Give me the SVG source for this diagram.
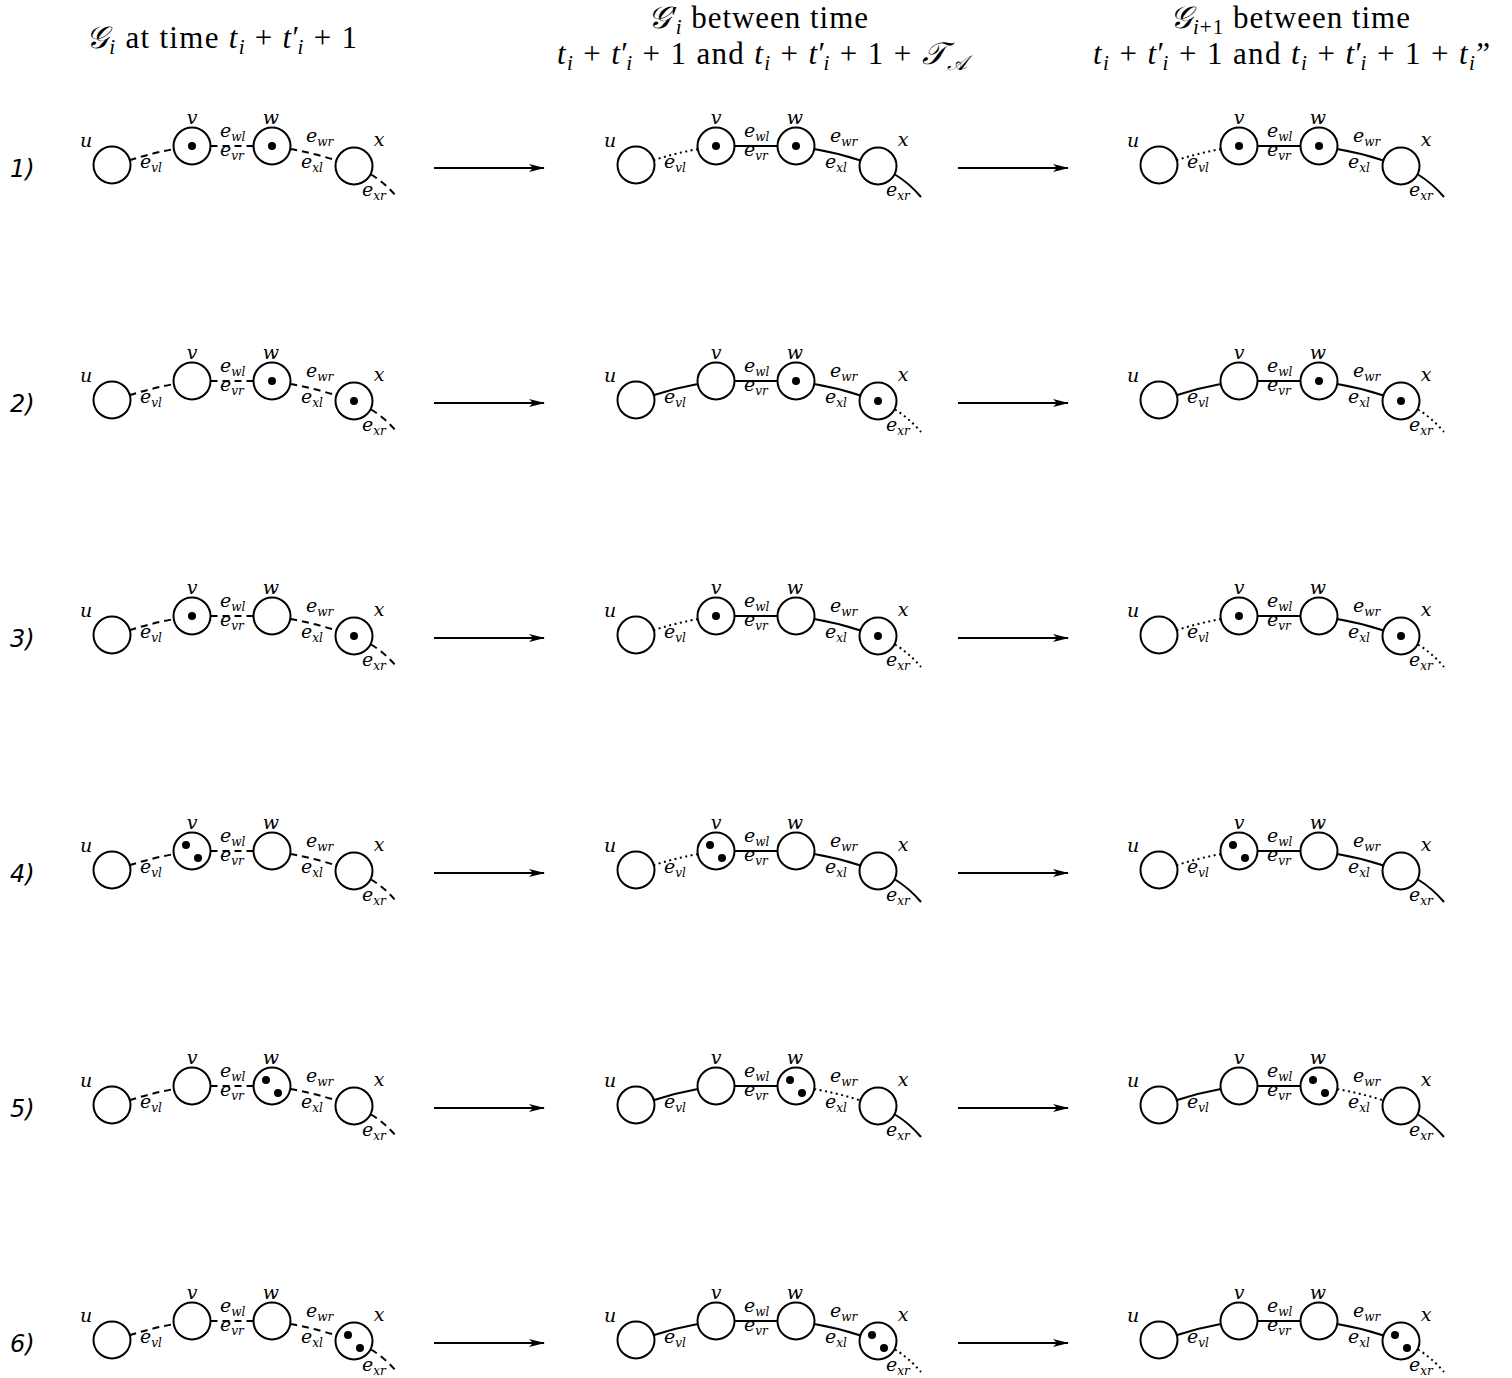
<svg xmlns="http://www.w3.org/2000/svg" width="1512" height="1378" viewBox="0 0 1512 1378">
<style>
.bg{fill:#fff}
.n{fill:#fff;stroke:#000;stroke-width:2}
.d{fill:#000}
.e{fill:none;stroke:#000;stroke-width:2}
.ds{stroke-dasharray:7 5}
.dt{stroke-dasharray:2 3.5}
.nl{font-family:'DejaVu Serif',serif;font-style:italic;font-size:19px;text-anchor:middle}
.el{font-family:'DejaVu Serif',serif;font-style:italic;font-size:19px}
.sb{font-size:12px}
.rl{font-family:'DejaVu Sans',sans-serif;font-style:italic;font-size:24px}
.hd{font-family:'Liberation Serif',serif;font-size:31px}
.it{font-style:italic}
.hs{font-size:21px;font-style:italic}
.ar{fill:none;stroke:#000;stroke-width:2}
</style>
<defs>
<marker id="ah" markerWidth="16" markerHeight="10" refX="15" refY="5" orient="auto" markerUnits="userSpaceOnUse">
<path d="M0,1 L16,5 L0,9 L4,5 Z" fill="#000"/>
</marker>
</defs>
<rect class="bg" x="0" y="0" width="1512" height="1378"/>

<g id="headers">
<text class="hd" font-family="Liberation Serif, serif" x="86" y="48" textLength="271" lengthAdjust="spacing"><tspan class="it">𝒢</tspan><tspan class="hs" dy="6">i</tspan><tspan dy="-6"> at time </tspan><tspan class="it">t</tspan><tspan class="hs" dy="6">i</tspan><tspan dy="-6"> + </tspan><tspan class="it">t</tspan><tspan>′</tspan><tspan class="hs" dx="-3" dy="6">i</tspan><tspan dy="-6"> + 1</tspan></text>
<text class="hd" font-family="Liberation Serif, serif" x="648" y="28" textLength="220" lengthAdjust="spacing"><tspan class="it">𝒢</tspan><tspan>′</tspan><tspan class="hs" dx="-3" dy="6">i</tspan><tspan dy="-6"> between time</tspan></text>
<text class="hd" font-family="Liberation Serif, serif" x="557" y="64" textLength="410" lengthAdjust="spacing"><tspan class="it">t</tspan><tspan class="hs" dy="6">i</tspan><tspan dy="-6"> + </tspan><tspan class="it">t</tspan><tspan>′</tspan><tspan class="hs" dx="-3" dy="6">i</tspan><tspan dy="-6"> + 1 and </tspan><tspan class="it">t</tspan><tspan class="hs" dy="6">i</tspan><tspan dy="-6"> + </tspan><tspan class="it">t</tspan><tspan>′</tspan><tspan class="hs" dx="-3" dy="6">i</tspan><tspan dy="-6"> + 1 + </tspan><tspan class="it">𝒯</tspan><tspan class="hs" dy="6">𝒜</tspan></text>
<text class="hd" font-family="Liberation Serif, serif" x="1170" y="28" textLength="240" lengthAdjust="spacing"><tspan class="it">𝒢</tspan><tspan class="hs" dy="6">i</tspan><tspan style="font-size:21px">+1</tspan><tspan dy="-6"> between time</tspan></text>
<text class="hd" font-family="Liberation Serif, serif" x="1093" y="64" textLength="397" lengthAdjust="spacing"><tspan class="it">t</tspan><tspan class="hs" dy="6">i</tspan><tspan dy="-6"> + </tspan><tspan class="it">t</tspan><tspan>′</tspan><tspan class="hs" dx="-3" dy="6">i</tspan><tspan dy="-6"> + 1 and </tspan><tspan class="it">t</tspan><tspan class="hs" dy="6">i</tspan><tspan dy="-6"> + </tspan><tspan class="it">t</tspan><tspan>′</tspan><tspan class="hs" dx="-3" dy="6">i</tspan><tspan dy="-6"> + 1 + </tspan><tspan class="it">t</tspan><tspan class="hs" dy="6">i</tspan><tspan dy="-6">”</tspan></text>
</g>

<g id="row-labels">
<text class="rl" x="10" y="177">1)</text>
<text class="rl" x="10" y="412">2)</text>
<text class="rl" x="10" y="647">3)</text>
<text class="rl" x="10" y="882">4)</text>
<text class="rl" x="10" y="1117">5)</text>
<text class="rl" x="10" y="1352">6)</text>
</g>

<g id="arrows">
<line class="ar" x1="434" y1="168" x2="544" y2="168" marker-end="url(#ah)"/>
<line class="ar" x1="958" y1="168" x2="1068" y2="168" marker-end="url(#ah)"/>
<line class="ar" x1="434" y1="403" x2="544" y2="403" marker-end="url(#ah)"/>
<line class="ar" x1="958" y1="403" x2="1068" y2="403" marker-end="url(#ah)"/>
<line class="ar" x1="434" y1="638" x2="544" y2="638" marker-end="url(#ah)"/>
<line class="ar" x1="958" y1="638" x2="1068" y2="638" marker-end="url(#ah)"/>
<line class="ar" x1="434" y1="873" x2="544" y2="873" marker-end="url(#ah)"/>
<line class="ar" x1="958" y1="873" x2="1068" y2="873" marker-end="url(#ah)"/>
<line class="ar" x1="434" y1="1108" x2="544" y2="1108" marker-end="url(#ah)"/>
<line class="ar" x1="958" y1="1108" x2="1068" y2="1108" marker-end="url(#ah)"/>
<line class="ar" x1="434" y1="1343" x2="544" y2="1343" marker-end="url(#ah)"/>
<line class="ar" x1="958" y1="1343" x2="1068" y2="1343" marker-end="url(#ah)"/>
</g>

<!-- ROW 1 -->
<g id="r1-left" transform="translate(0,0)">
<g id="r1-left-connectors">
<path class="e ds" d="M129.4,160.3 A332,332 0 0 1 173.8,149.1"/>
<path class="e ds" d="M210.5,146 H253.5"/>
<path class="e ds" d="M290.2,149.1 A332,332 0 0 1 336.5,160.5"/>
<path class="e ds" d="M371,174.5 Q385,183 397,197"/>
<text class="el" x="140" y="168">e<tspan class="sb" dy="4">vl</tspan></text>
<text class="el" x="220" y="137">e<tspan class="sb" dy="4">wl</tspan></text>
<text class="el" x="220" y="156">e<tspan class="sb" dy="4">vr</tspan></text>
<text class="el" x="306" y="142">e<tspan class="sb" dy="4">wr</tspan></text>
<text class="el" x="301" y="168">e<tspan class="sb" dy="4">xl</tspan></text>
<text class="el" x="362" y="196">e<tspan class="sb" dy="4">xr</tspan></text>
</g>
<g id="r1-left-u"><circle class="n" cx="112" cy="165" r="18.5"/><text class="nl" x="86" y="147">u</text></g>
<g id="r1-left-v"><circle class="n" cx="192" cy="146" r="18.5"/><circle class="d" cx="192" cy="146" r="4"/><text class="nl" x="192" y="124">v</text></g>
<g id="r1-left-w"><circle class="n" cx="272" cy="146" r="18.5"/><circle class="d" cx="272" cy="146" r="4"/><text class="nl" x="271" y="124">w</text></g>
<g id="r1-left-x"><circle class="n" cx="354" cy="166" r="18.5"/><text class="nl" x="379" y="146">x</text></g>
</g>

<g id="r1-mid" transform="translate(524,0)">
<g id="r1-mid-connectors">
<path class="e dt" d="M129.4,160.3 A332,332 0 0 1 173.8,149.1"/>
<path class="e" d="M210.5,146 H253.5"/>
<path class="e" d="M290.2,149.1 A332,332 0 0 1 336.5,160.5"/>
<path class="e" d="M371,174.5 Q385,183 397,197"/>
<text class="el" x="140" y="168">e<tspan class="sb" dy="4">vl</tspan></text>
<text class="el" x="220" y="137">e<tspan class="sb" dy="4">wl</tspan></text>
<text class="el" x="220" y="156">e<tspan class="sb" dy="4">vr</tspan></text>
<text class="el" x="306" y="142">e<tspan class="sb" dy="4">wr</tspan></text>
<text class="el" x="301" y="168">e<tspan class="sb" dy="4">xl</tspan></text>
<text class="el" x="362" y="196">e<tspan class="sb" dy="4">xr</tspan></text>
</g>
<g id="r1-mid-u"><circle class="n" cx="112" cy="165" r="18.5"/><text class="nl" x="86" y="147">u</text></g>
<g id="r1-mid-v"><circle class="n" cx="192" cy="146" r="18.5"/><circle class="d" cx="192" cy="146" r="4"/><text class="nl" x="192" y="124">v</text></g>
<g id="r1-mid-w"><circle class="n" cx="272" cy="146" r="18.5"/><circle class="d" cx="272" cy="146" r="4"/><text class="nl" x="271" y="124">w</text></g>
<g id="r1-mid-x"><circle class="n" cx="354" cy="166" r="18.5"/><text class="nl" x="379" y="146">x</text></g>
</g>

<g id="r1-right" transform="translate(1047,0)">
<g id="r1-right-connectors">
<path class="e dt" d="M129.4,160.3 A332,332 0 0 1 173.8,149.1"/>
<path class="e" d="M210.5,146 H253.5"/>
<path class="e" d="M290.2,149.1 A332,332 0 0 1 336.5,160.5"/>
<path class="e" d="M371,174.5 Q385,183 397,197"/>
<text class="el" x="140" y="168">e<tspan class="sb" dy="4">vl</tspan></text>
<text class="el" x="220" y="137">e<tspan class="sb" dy="4">wl</tspan></text>
<text class="el" x="220" y="156">e<tspan class="sb" dy="4">vr</tspan></text>
<text class="el" x="306" y="142">e<tspan class="sb" dy="4">wr</tspan></text>
<text class="el" x="301" y="168">e<tspan class="sb" dy="4">xl</tspan></text>
<text class="el" x="362" y="196">e<tspan class="sb" dy="4">xr</tspan></text>
</g>
<g id="r1-right-u"><circle class="n" cx="112" cy="165" r="18.5"/><text class="nl" x="86" y="147">u</text></g>
<g id="r1-right-v"><circle class="n" cx="192" cy="146" r="18.5"/><circle class="d" cx="192" cy="146" r="4"/><text class="nl" x="192" y="124">v</text></g>
<g id="r1-right-w"><circle class="n" cx="272" cy="146" r="18.5"/><circle class="d" cx="272" cy="146" r="4"/><text class="nl" x="271" y="124">w</text></g>
<g id="r1-right-x"><circle class="n" cx="354" cy="166" r="18.5"/><text class="nl" x="379" y="146">x</text></g>
</g>

<!-- ROW 2 -->
<g id="r2-left" transform="translate(0,235)">
<g id="r2-left-connectors">
<path class="e ds" d="M129.4,160.3 A332,332 0 0 1 173.8,149.1"/>
<path class="e ds" d="M210.5,146 H253.5"/>
<path class="e ds" d="M290.2,149.1 A332,332 0 0 1 336.5,160.5"/>
<path class="e ds" d="M371,174.5 Q385,183 397,197"/>
<text class="el" x="140" y="168">e<tspan class="sb" dy="4">vl</tspan></text>
<text class="el" x="220" y="137">e<tspan class="sb" dy="4">wl</tspan></text>
<text class="el" x="220" y="156">e<tspan class="sb" dy="4">vr</tspan></text>
<text class="el" x="306" y="142">e<tspan class="sb" dy="4">wr</tspan></text>
<text class="el" x="301" y="168">e<tspan class="sb" dy="4">xl</tspan></text>
<text class="el" x="362" y="196">e<tspan class="sb" dy="4">xr</tspan></text>
</g>
<g id="r2-left-u"><circle class="n" cx="112" cy="165" r="18.5"/><text class="nl" x="86" y="147">u</text></g>
<g id="r2-left-v"><circle class="n" cx="192" cy="146" r="18.5"/><text class="nl" x="192" y="124">v</text></g>
<g id="r2-left-w"><circle class="n" cx="272" cy="146" r="18.5"/><circle class="d" cx="272" cy="146" r="4"/><text class="nl" x="271" y="124">w</text></g>
<g id="r2-left-x"><circle class="n" cx="354" cy="166" r="18.5"/><circle class="d" cx="354" cy="166" r="4"/><text class="nl" x="379" y="146">x</text></g>
</g>

<g id="r2-mid" transform="translate(524,235)">
<g id="r2-mid-connectors">
<path class="e" d="M129.4,160.3 A332,332 0 0 1 173.8,149.1"/>
<path class="e" d="M210.5,146 H253.5"/>
<path class="e" d="M290.2,149.1 A332,332 0 0 1 336.5,160.5"/>
<path class="e dt" d="M371,174.5 Q385,183 397,197"/>
<text class="el" x="140" y="168">e<tspan class="sb" dy="4">vl</tspan></text>
<text class="el" x="220" y="137">e<tspan class="sb" dy="4">wl</tspan></text>
<text class="el" x="220" y="156">e<tspan class="sb" dy="4">vr</tspan></text>
<text class="el" x="306" y="142">e<tspan class="sb" dy="4">wr</tspan></text>
<text class="el" x="301" y="168">e<tspan class="sb" dy="4">xl</tspan></text>
<text class="el" x="362" y="196">e<tspan class="sb" dy="4">xr</tspan></text>
</g>
<g id="r2-mid-u"><circle class="n" cx="112" cy="165" r="18.5"/><text class="nl" x="86" y="147">u</text></g>
<g id="r2-mid-v"><circle class="n" cx="192" cy="146" r="18.5"/><text class="nl" x="192" y="124">v</text></g>
<g id="r2-mid-w"><circle class="n" cx="272" cy="146" r="18.5"/><circle class="d" cx="272" cy="146" r="4"/><text class="nl" x="271" y="124">w</text></g>
<g id="r2-mid-x"><circle class="n" cx="354" cy="166" r="18.5"/><circle class="d" cx="354" cy="166" r="4"/><text class="nl" x="379" y="146">x</text></g>
</g>

<g id="r2-right" transform="translate(1047,235)">
<g id="r2-right-connectors">
<path class="e" d="M129.4,160.3 A332,332 0 0 1 173.8,149.1"/>
<path class="e" d="M210.5,146 H253.5"/>
<path class="e" d="M290.2,149.1 A332,332 0 0 1 336.5,160.5"/>
<path class="e dt" d="M371,174.5 Q385,183 397,197"/>
<text class="el" x="140" y="168">e<tspan class="sb" dy="4">vl</tspan></text>
<text class="el" x="220" y="137">e<tspan class="sb" dy="4">wl</tspan></text>
<text class="el" x="220" y="156">e<tspan class="sb" dy="4">vr</tspan></text>
<text class="el" x="306" y="142">e<tspan class="sb" dy="4">wr</tspan></text>
<text class="el" x="301" y="168">e<tspan class="sb" dy="4">xl</tspan></text>
<text class="el" x="362" y="196">e<tspan class="sb" dy="4">xr</tspan></text>
</g>
<g id="r2-right-u"><circle class="n" cx="112" cy="165" r="18.5"/><text class="nl" x="86" y="147">u</text></g>
<g id="r2-right-v"><circle class="n" cx="192" cy="146" r="18.5"/><text class="nl" x="192" y="124">v</text></g>
<g id="r2-right-w"><circle class="n" cx="272" cy="146" r="18.5"/><circle class="d" cx="272" cy="146" r="4"/><text class="nl" x="271" y="124">w</text></g>
<g id="r2-right-x"><circle class="n" cx="354" cy="166" r="18.5"/><circle class="d" cx="354" cy="166" r="4"/><text class="nl" x="379" y="146">x</text></g>
</g>

<!-- ROW 3 -->
<g id="r3-left" transform="translate(0,470)">
<g id="r3-left-connectors">
<path class="e ds" d="M129.4,160.3 A332,332 0 0 1 173.8,149.1"/>
<path class="e ds" d="M210.5,146 H253.5"/>
<path class="e ds" d="M290.2,149.1 A332,332 0 0 1 336.5,160.5"/>
<path class="e ds" d="M371,174.5 Q385,183 397,197"/>
<text class="el" x="140" y="168">e<tspan class="sb" dy="4">vl</tspan></text>
<text class="el" x="220" y="137">e<tspan class="sb" dy="4">wl</tspan></text>
<text class="el" x="220" y="156">e<tspan class="sb" dy="4">vr</tspan></text>
<text class="el" x="306" y="142">e<tspan class="sb" dy="4">wr</tspan></text>
<text class="el" x="301" y="168">e<tspan class="sb" dy="4">xl</tspan></text>
<text class="el" x="362" y="196">e<tspan class="sb" dy="4">xr</tspan></text>
</g>
<g id="r3-left-u"><circle class="n" cx="112" cy="165" r="18.5"/><text class="nl" x="86" y="147">u</text></g>
<g id="r3-left-v"><circle class="n" cx="192" cy="146" r="18.5"/><circle class="d" cx="192" cy="146" r="4"/><text class="nl" x="192" y="124">v</text></g>
<g id="r3-left-w"><circle class="n" cx="272" cy="146" r="18.5"/><text class="nl" x="271" y="124">w</text></g>
<g id="r3-left-x"><circle class="n" cx="354" cy="166" r="18.5"/><circle class="d" cx="354" cy="166" r="4"/><text class="nl" x="379" y="146">x</text></g>
</g>

<g id="r3-mid" transform="translate(524,470)">
<g id="r3-mid-connectors">
<path class="e dt" d="M129.4,160.3 A332,332 0 0 1 173.8,149.1"/>
<path class="e" d="M210.5,146 H253.5"/>
<path class="e" d="M290.2,149.1 A332,332 0 0 1 336.5,160.5"/>
<path class="e dt" d="M371,174.5 Q385,183 397,197"/>
<text class="el" x="140" y="168">e<tspan class="sb" dy="4">vl</tspan></text>
<text class="el" x="220" y="137">e<tspan class="sb" dy="4">wl</tspan></text>
<text class="el" x="220" y="156">e<tspan class="sb" dy="4">vr</tspan></text>
<text class="el" x="306" y="142">e<tspan class="sb" dy="4">wr</tspan></text>
<text class="el" x="301" y="168">e<tspan class="sb" dy="4">xl</tspan></text>
<text class="el" x="362" y="196">e<tspan class="sb" dy="4">xr</tspan></text>
</g>
<g id="r3-mid-u"><circle class="n" cx="112" cy="165" r="18.5"/><text class="nl" x="86" y="147">u</text></g>
<g id="r3-mid-v"><circle class="n" cx="192" cy="146" r="18.5"/><circle class="d" cx="192" cy="146" r="4"/><text class="nl" x="192" y="124">v</text></g>
<g id="r3-mid-w"><circle class="n" cx="272" cy="146" r="18.5"/><text class="nl" x="271" y="124">w</text></g>
<g id="r3-mid-x"><circle class="n" cx="354" cy="166" r="18.5"/><circle class="d" cx="354" cy="166" r="4"/><text class="nl" x="379" y="146">x</text></g>
</g>

<g id="r3-right" transform="translate(1047,470)">
<g id="r3-right-connectors">
<path class="e dt" d="M129.4,160.3 A332,332 0 0 1 173.8,149.1"/>
<path class="e" d="M210.5,146 H253.5"/>
<path class="e" d="M290.2,149.1 A332,332 0 0 1 336.5,160.5"/>
<path class="e dt" d="M371,174.5 Q385,183 397,197"/>
<text class="el" x="140" y="168">e<tspan class="sb" dy="4">vl</tspan></text>
<text class="el" x="220" y="137">e<tspan class="sb" dy="4">wl</tspan></text>
<text class="el" x="220" y="156">e<tspan class="sb" dy="4">vr</tspan></text>
<text class="el" x="306" y="142">e<tspan class="sb" dy="4">wr</tspan></text>
<text class="el" x="301" y="168">e<tspan class="sb" dy="4">xl</tspan></text>
<text class="el" x="362" y="196">e<tspan class="sb" dy="4">xr</tspan></text>
</g>
<g id="r3-right-u"><circle class="n" cx="112" cy="165" r="18.5"/><text class="nl" x="86" y="147">u</text></g>
<g id="r3-right-v"><circle class="n" cx="192" cy="146" r="18.5"/><circle class="d" cx="192" cy="146" r="4"/><text class="nl" x="192" y="124">v</text></g>
<g id="r3-right-w"><circle class="n" cx="272" cy="146" r="18.5"/><text class="nl" x="271" y="124">w</text></g>
<g id="r3-right-x"><circle class="n" cx="354" cy="166" r="18.5"/><circle class="d" cx="354" cy="166" r="4"/><text class="nl" x="379" y="146">x</text></g>
</g>

<!-- ROW 4 -->
<g id="r4-left" transform="translate(0,705)">
<g id="r4-left-connectors">
<path class="e ds" d="M129.4,160.3 A332,332 0 0 1 173.8,149.1"/>
<path class="e ds" d="M210.5,146 H253.5"/>
<path class="e ds" d="M290.2,149.1 A332,332 0 0 1 336.5,160.5"/>
<path class="e ds" d="M371,174.5 Q385,183 397,197"/>
<text class="el" x="140" y="168">e<tspan class="sb" dy="4">vl</tspan></text>
<text class="el" x="220" y="137">e<tspan class="sb" dy="4">wl</tspan></text>
<text class="el" x="220" y="156">e<tspan class="sb" dy="4">vr</tspan></text>
<text class="el" x="306" y="142">e<tspan class="sb" dy="4">wr</tspan></text>
<text class="el" x="301" y="168">e<tspan class="sb" dy="4">xl</tspan></text>
<text class="el" x="362" y="196">e<tspan class="sb" dy="4">xr</tspan></text>
</g>
<g id="r4-left-u"><circle class="n" cx="112" cy="165" r="18.5"/><text class="nl" x="86" y="147">u</text></g>
<g id="r4-left-v"><circle class="n" cx="192" cy="146" r="18.5"/><circle class="d" cx="186" cy="140" r="4"/><circle class="d" cx="198" cy="153" r="4"/><text class="nl" x="192" y="124">v</text></g>
<g id="r4-left-w"><circle class="n" cx="272" cy="146" r="18.5"/><text class="nl" x="271" y="124">w</text></g>
<g id="r4-left-x"><circle class="n" cx="354" cy="166" r="18.5"/><text class="nl" x="379" y="146">x</text></g>
</g>

<g id="r4-mid" transform="translate(524,705)">
<g id="r4-mid-connectors">
<path class="e dt" d="M129.4,160.3 A332,332 0 0 1 173.8,149.1"/>
<path class="e" d="M210.5,146 H253.5"/>
<path class="e" d="M290.2,149.1 A332,332 0 0 1 336.5,160.5"/>
<path class="e" d="M371,174.5 Q385,183 397,197"/>
<text class="el" x="140" y="168">e<tspan class="sb" dy="4">vl</tspan></text>
<text class="el" x="220" y="137">e<tspan class="sb" dy="4">wl</tspan></text>
<text class="el" x="220" y="156">e<tspan class="sb" dy="4">vr</tspan></text>
<text class="el" x="306" y="142">e<tspan class="sb" dy="4">wr</tspan></text>
<text class="el" x="301" y="168">e<tspan class="sb" dy="4">xl</tspan></text>
<text class="el" x="362" y="196">e<tspan class="sb" dy="4">xr</tspan></text>
</g>
<g id="r4-mid-u"><circle class="n" cx="112" cy="165" r="18.5"/><text class="nl" x="86" y="147">u</text></g>
<g id="r4-mid-v"><circle class="n" cx="192" cy="146" r="18.5"/><circle class="d" cx="186" cy="140" r="4"/><circle class="d" cx="198" cy="153" r="4"/><text class="nl" x="192" y="124">v</text></g>
<g id="r4-mid-w"><circle class="n" cx="272" cy="146" r="18.5"/><text class="nl" x="271" y="124">w</text></g>
<g id="r4-mid-x"><circle class="n" cx="354" cy="166" r="18.5"/><text class="nl" x="379" y="146">x</text></g>
</g>

<g id="r4-right" transform="translate(1047,705)">
<g id="r4-right-connectors">
<path class="e dt" d="M129.4,160.3 A332,332 0 0 1 173.8,149.1"/>
<path class="e" d="M210.5,146 H253.5"/>
<path class="e" d="M290.2,149.1 A332,332 0 0 1 336.5,160.5"/>
<path class="e" d="M371,174.5 Q385,183 397,197"/>
<text class="el" x="140" y="168">e<tspan class="sb" dy="4">vl</tspan></text>
<text class="el" x="220" y="137">e<tspan class="sb" dy="4">wl</tspan></text>
<text class="el" x="220" y="156">e<tspan class="sb" dy="4">vr</tspan></text>
<text class="el" x="306" y="142">e<tspan class="sb" dy="4">wr</tspan></text>
<text class="el" x="301" y="168">e<tspan class="sb" dy="4">xl</tspan></text>
<text class="el" x="362" y="196">e<tspan class="sb" dy="4">xr</tspan></text>
</g>
<g id="r4-right-u"><circle class="n" cx="112" cy="165" r="18.5"/><text class="nl" x="86" y="147">u</text></g>
<g id="r4-right-v"><circle class="n" cx="192" cy="146" r="18.5"/><circle class="d" cx="186" cy="140" r="4"/><circle class="d" cx="198" cy="153" r="4"/><text class="nl" x="192" y="124">v</text></g>
<g id="r4-right-w"><circle class="n" cx="272" cy="146" r="18.5"/><text class="nl" x="271" y="124">w</text></g>
<g id="r4-right-x"><circle class="n" cx="354" cy="166" r="18.5"/><text class="nl" x="379" y="146">x</text></g>
</g>

<!-- ROW 5 -->
<g id="r5-left" transform="translate(0,940)">
<g id="r5-left-connectors">
<path class="e ds" d="M129.4,160.3 A332,332 0 0 1 173.8,149.1"/>
<path class="e ds" d="M210.5,146 H253.5"/>
<path class="e ds" d="M290.2,149.1 A332,332 0 0 1 336.5,160.5"/>
<path class="e ds" d="M371,174.5 Q385,183 397,197"/>
<text class="el" x="140" y="168">e<tspan class="sb" dy="4">vl</tspan></text>
<text class="el" x="220" y="137">e<tspan class="sb" dy="4">wl</tspan></text>
<text class="el" x="220" y="156">e<tspan class="sb" dy="4">vr</tspan></text>
<text class="el" x="306" y="142">e<tspan class="sb" dy="4">wr</tspan></text>
<text class="el" x="301" y="168">e<tspan class="sb" dy="4">xl</tspan></text>
<text class="el" x="362" y="196">e<tspan class="sb" dy="4">xr</tspan></text>
</g>
<g id="r5-left-u"><circle class="n" cx="112" cy="165" r="18.5"/><text class="nl" x="86" y="147">u</text></g>
<g id="r5-left-v"><circle class="n" cx="192" cy="146" r="18.5"/><text class="nl" x="192" y="124">v</text></g>
<g id="r5-left-w"><circle class="n" cx="272" cy="146" r="18.5"/><circle class="d" cx="266" cy="140" r="4"/><circle class="d" cx="278" cy="153" r="4"/><text class="nl" x="271" y="124">w</text></g>
<g id="r5-left-x"><circle class="n" cx="354" cy="166" r="18.5"/><text class="nl" x="379" y="146">x</text></g>
</g>

<g id="r5-mid" transform="translate(524,940)">
<g id="r5-mid-connectors">
<path class="e" d="M129.4,160.3 A332,332 0 0 1 173.8,149.1"/>
<path class="e" d="M210.5,146 H253.5"/>
<path class="e dt" d="M290.2,149.1 A332,332 0 0 1 336.5,160.5"/>
<path class="e" d="M371,174.5 Q385,183 397,197"/>
<text class="el" x="140" y="168">e<tspan class="sb" dy="4">vl</tspan></text>
<text class="el" x="220" y="137">e<tspan class="sb" dy="4">wl</tspan></text>
<text class="el" x="220" y="156">e<tspan class="sb" dy="4">vr</tspan></text>
<text class="el" x="306" y="142">e<tspan class="sb" dy="4">wr</tspan></text>
<text class="el" x="301" y="168">e<tspan class="sb" dy="4">xl</tspan></text>
<text class="el" x="362" y="196">e<tspan class="sb" dy="4">xr</tspan></text>
</g>
<g id="r5-mid-u"><circle class="n" cx="112" cy="165" r="18.5"/><text class="nl" x="86" y="147">u</text></g>
<g id="r5-mid-v"><circle class="n" cx="192" cy="146" r="18.5"/><text class="nl" x="192" y="124">v</text></g>
<g id="r5-mid-w"><circle class="n" cx="272" cy="146" r="18.5"/><circle class="d" cx="266" cy="140" r="4"/><circle class="d" cx="278" cy="153" r="4"/><text class="nl" x="271" y="124">w</text></g>
<g id="r5-mid-x"><circle class="n" cx="354" cy="166" r="18.5"/><text class="nl" x="379" y="146">x</text></g>
</g>

<g id="r5-right" transform="translate(1047,940)">
<g id="r5-right-connectors">
<path class="e" d="M129.4,160.3 A332,332 0 0 1 173.8,149.1"/>
<path class="e" d="M210.5,146 H253.5"/>
<path class="e dt" d="M290.2,149.1 A332,332 0 0 1 336.5,160.5"/>
<path class="e" d="M371,174.5 Q385,183 397,197"/>
<text class="el" x="140" y="168">e<tspan class="sb" dy="4">vl</tspan></text>
<text class="el" x="220" y="137">e<tspan class="sb" dy="4">wl</tspan></text>
<text class="el" x="220" y="156">e<tspan class="sb" dy="4">vr</tspan></text>
<text class="el" x="306" y="142">e<tspan class="sb" dy="4">wr</tspan></text>
<text class="el" x="301" y="168">e<tspan class="sb" dy="4">xl</tspan></text>
<text class="el" x="362" y="196">e<tspan class="sb" dy="4">xr</tspan></text>
</g>
<g id="r5-right-u"><circle class="n" cx="112" cy="165" r="18.5"/><text class="nl" x="86" y="147">u</text></g>
<g id="r5-right-v"><circle class="n" cx="192" cy="146" r="18.5"/><text class="nl" x="192" y="124">v</text></g>
<g id="r5-right-w"><circle class="n" cx="272" cy="146" r="18.5"/><circle class="d" cx="266" cy="140" r="4"/><circle class="d" cx="278" cy="153" r="4"/><text class="nl" x="271" y="124">w</text></g>
<g id="r5-right-x"><circle class="n" cx="354" cy="166" r="18.5"/><text class="nl" x="379" y="146">x</text></g>
</g>

<!-- ROW 6 -->
<g id="r6-left" transform="translate(0,1175)">
<g id="r6-left-connectors">
<path class="e ds" d="M129.4,160.3 A332,332 0 0 1 173.8,149.1"/>
<path class="e ds" d="M210.5,146 H253.5"/>
<path class="e ds" d="M290.2,149.1 A332,332 0 0 1 336.5,160.5"/>
<path class="e ds" d="M371,174.5 Q385,183 397,197"/>
<text class="el" x="140" y="168">e<tspan class="sb" dy="4">vl</tspan></text>
<text class="el" x="220" y="137">e<tspan class="sb" dy="4">wl</tspan></text>
<text class="el" x="220" y="156">e<tspan class="sb" dy="4">vr</tspan></text>
<text class="el" x="306" y="142">e<tspan class="sb" dy="4">wr</tspan></text>
<text class="el" x="301" y="168">e<tspan class="sb" dy="4">xl</tspan></text>
<text class="el" x="362" y="196">e<tspan class="sb" dy="4">xr</tspan></text>
</g>
<g id="r6-left-u"><circle class="n" cx="112" cy="165" r="18.5"/><text class="nl" x="86" y="147">u</text></g>
<g id="r6-left-v"><circle class="n" cx="192" cy="146" r="18.5"/><text class="nl" x="192" y="124">v</text></g>
<g id="r6-left-w"><circle class="n" cx="272" cy="146" r="18.5"/><text class="nl" x="271" y="124">w</text></g>
<g id="r6-left-x"><circle class="n" cx="354" cy="166" r="18.5"/><circle class="d" cx="348" cy="160" r="4"/><circle class="d" cx="360" cy="173" r="4"/><text class="nl" x="379" y="146">x</text></g>
</g>

<g id="r6-mid" transform="translate(524,1175)">
<g id="r6-mid-connectors">
<path class="e" d="M129.4,160.3 A332,332 0 0 1 173.8,149.1"/>
<path class="e" d="M210.5,146 H253.5"/>
<path class="e" d="M290.2,149.1 A332,332 0 0 1 336.5,160.5"/>
<path class="e dt" d="M371,174.5 Q385,183 397,197"/>
<text class="el" x="140" y="168">e<tspan class="sb" dy="4">vl</tspan></text>
<text class="el" x="220" y="137">e<tspan class="sb" dy="4">wl</tspan></text>
<text class="el" x="220" y="156">e<tspan class="sb" dy="4">vr</tspan></text>
<text class="el" x="306" y="142">e<tspan class="sb" dy="4">wr</tspan></text>
<text class="el" x="301" y="168">e<tspan class="sb" dy="4">xl</tspan></text>
<text class="el" x="362" y="196">e<tspan class="sb" dy="4">xr</tspan></text>
</g>
<g id="r6-mid-u"><circle class="n" cx="112" cy="165" r="18.5"/><text class="nl" x="86" y="147">u</text></g>
<g id="r6-mid-v"><circle class="n" cx="192" cy="146" r="18.5"/><text class="nl" x="192" y="124">v</text></g>
<g id="r6-mid-w"><circle class="n" cx="272" cy="146" r="18.5"/><text class="nl" x="271" y="124">w</text></g>
<g id="r6-mid-x"><circle class="n" cx="354" cy="166" r="18.5"/><circle class="d" cx="348" cy="160" r="4"/><circle class="d" cx="360" cy="173" r="4"/><text class="nl" x="379" y="146">x</text></g>
</g>

<g id="r6-right" transform="translate(1047,1175)">
<g id="r6-right-connectors">
<path class="e" d="M129.4,160.3 A332,332 0 0 1 173.8,149.1"/>
<path class="e" d="M210.5,146 H253.5"/>
<path class="e" d="M290.2,149.1 A332,332 0 0 1 336.5,160.5"/>
<path class="e dt" d="M371,174.5 Q385,183 397,197"/>
<text class="el" x="140" y="168">e<tspan class="sb" dy="4">vl</tspan></text>
<text class="el" x="220" y="137">e<tspan class="sb" dy="4">wl</tspan></text>
<text class="el" x="220" y="156">e<tspan class="sb" dy="4">vr</tspan></text>
<text class="el" x="306" y="142">e<tspan class="sb" dy="4">wr</tspan></text>
<text class="el" x="301" y="168">e<tspan class="sb" dy="4">xl</tspan></text>
<text class="el" x="362" y="196">e<tspan class="sb" dy="4">xr</tspan></text>
</g>
<g id="r6-right-u"><circle class="n" cx="112" cy="165" r="18.5"/><text class="nl" x="86" y="147">u</text></g>
<g id="r6-right-v"><circle class="n" cx="192" cy="146" r="18.5"/><text class="nl" x="192" y="124">v</text></g>
<g id="r6-right-w"><circle class="n" cx="272" cy="146" r="18.5"/><text class="nl" x="271" y="124">w</text></g>
<g id="r6-right-x"><circle class="n" cx="354" cy="166" r="18.5"/><circle class="d" cx="348" cy="160" r="4"/><circle class="d" cx="360" cy="173" r="4"/><text class="nl" x="379" y="146">x</text></g>
</g>
</svg>
